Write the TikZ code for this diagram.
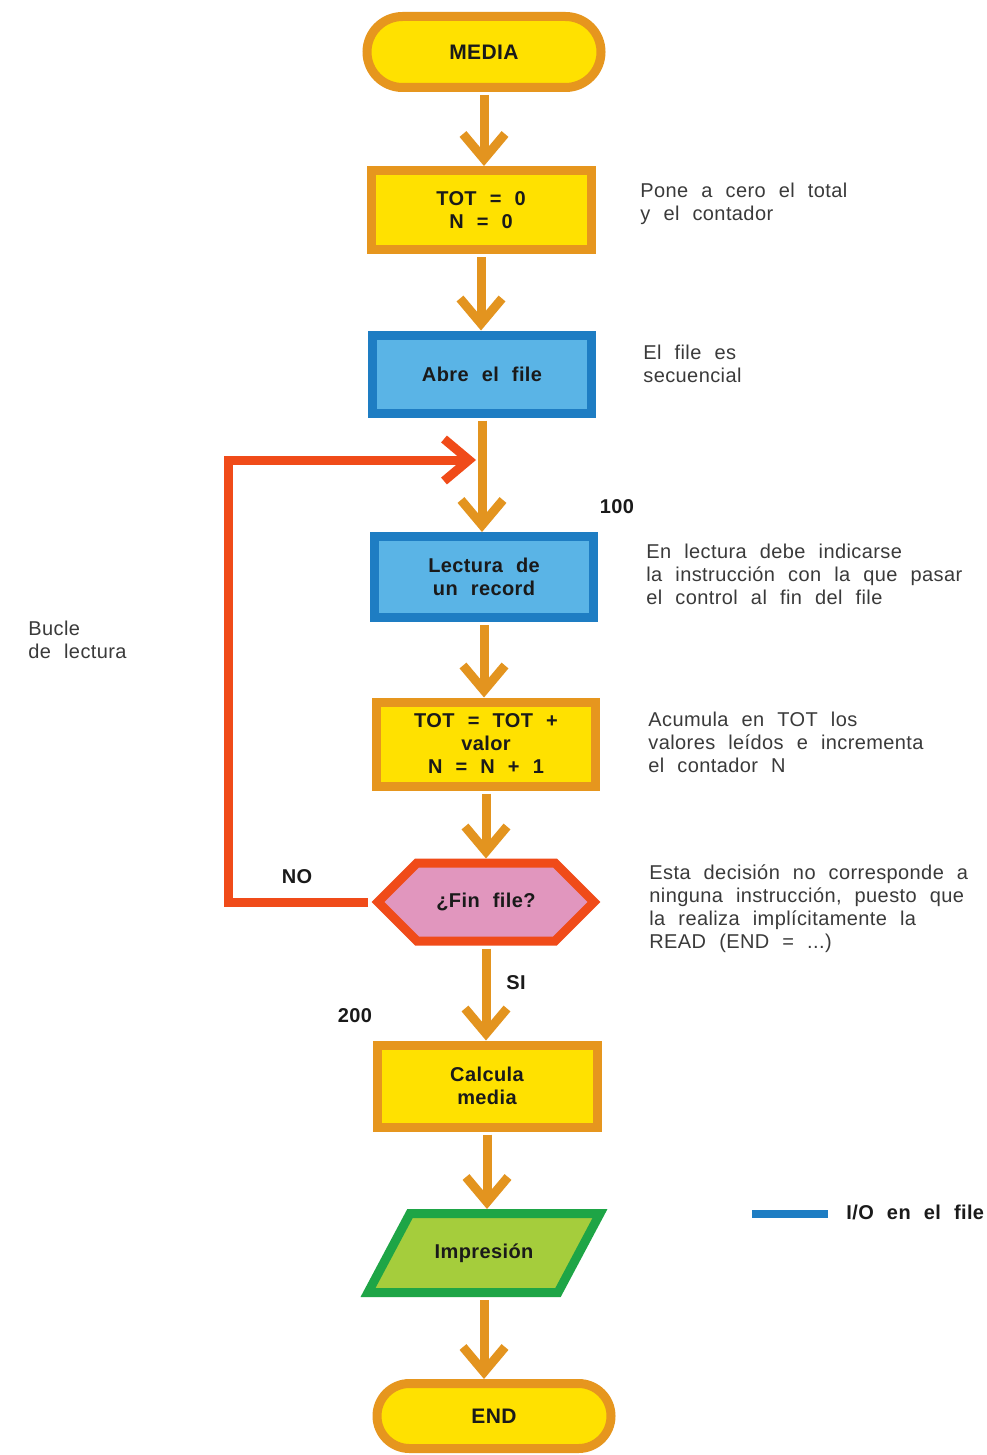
\documentclass[tikz,border=0pt]{standalone}
\usepackage{fontspec}
\setmainfont{Liberation Sans}[WordSpace=2.2,LetterSpace=2]
\usetikzlibrary{arrows.meta,calc}

\definecolor{boxyellow}{HTML}{FFE100}
\definecolor{boxorange}{HTML}{E6961E}
\definecolor{flowor}{HTML}{E3941F}
\definecolor{iofill}{HTML}{5AB4E6}
\definecolor{ioblue}{HTML}{1E7DC3}
\definecolor{looped}{HTML}{F04B19}
\definecolor{decfill}{HTML}{E196BE}
\definecolor{outgreen}{HTML}{1EA546}
\definecolor{outfill}{HTML}{A5CD3C}
\definecolor{ink}{HTML}{1A1A1A}
\definecolor{notegray}{HTML}{3A3A3A}

\begin{document}
\begin{tikzpicture}[x=0.5pt,y=-0.5pt,
  boxfont/.style={font=\bfseries\fontsize{10}{11.5}\selectfont},
  box/.style={boxfont, draw=boxorange, fill=boxyellow, line width=4.5pt,
    align=center, text=ink, inner sep=0pt},
  iobox/.style={box, draw=ioblue, fill=iofill},
  term/.style={box, font=\bfseries\fontsize{10.5}{12}\selectfont},
  frame/.style={inner sep=0pt, outer sep=0pt},
  flow/.style={draw=flowor, line width=4.5pt, shorten <=1.5pt,
    -{Straight Barb[length=12.5pt,width=21pt]}},
  loopflow/.style={draw=looped, line width=4.5pt, shorten <=2pt,
    -{Straight Barb[length=12.5pt,width=21pt]}},
  note/.style={anchor=north west, align=left, inner sep=0pt,
    font=\fontsize{10}{11.5}\selectfont, text=notegray},
  tag/.style={boxfont, text=ink, inner sep=0pt}]

\useasboundingbox (0,0) rectangle (986,1455);
\fill[white] (0,0) rectangle (986,1455);

% main column of steps
\node[term, minimum width=117pt, minimum height=35.5pt, rounded corners=17.75pt]
  (media) at (484,52) {MEDIA};
\node[box, minimum width=110pt, minimum height=39.5pt] (init) at (481,210)
  {TOT = 0\\N = 0};
\node[iobox, minimum width=109.5pt, minimum height=39pt] (open) at (482,374)
  {Abre el file};
\node[iobox, minimum width=109.5pt, minimum height=40.5pt] (read) at (484,577)
  {Lectura de\\un record};
\node[box, minimum width=109.5pt, minimum height=42pt] (accum) at (486,744)
  {TOT = TOT +\\valor\\N = N + 1};

% decision: hexagon drawn inside its frame
\node[frame, minimum width=114pt, minimum height=43.5pt] (hex) at (486,902) {};
\draw[draw=looped, fill=decfill, line width=4.5pt]
  ($(hex.west)+(6,0)$) -- ($(hex.north west)+(45,4.5)$)
  -- ($(hex.north east)+(-45,4.5)$) -- ($(hex.east)+(-6,0)$)
  -- ($(hex.south east)+(-45,-4.5)$) -- ($(hex.south west)+(45,-4.5)$) -- cycle;
\node[tag] (hextext) at (hex) {¿Fin file?};

\node[box, minimum width=110pt, minimum height=41pt] (calc) at (487,1086)
  {Calcula\\media};

% output: parallelogram drawn inside its frame
\node[frame, minimum width=122pt, minimum height=44pt] (print) at (484,1253) {};
\draw[draw=outgreen, fill=outfill, line width=4.5pt]
  ($(print.north west)+(48,4.5)$) -- ($(print.north east)+(-6,4.5)$)
  -- ($(print.south east)+(-48,-4.5)$) -- ($(print.south west)+(6,-4.5)$) -- cycle;
\node[tag] (printtext) at (print) {Impresión};

\node[term, minimum width=117pt, minimum height=32.5pt, rounded corners=16.25pt]
  (end) at (494,1416) {END};

% reading loop back to the record read
\coordinate (loopcorner) at (228,902);
\coordinate (loopjoin) at (476,460);
\draw[loopflow] (hex.west) -- (loopcorner) |- (loopjoin);

% flow connectors
\draw[flow] (media.south) -- (media.south |- init.north);
\draw[flow] (init.south) -- (init.south |- open.north);
\draw[flow] (open.south) -- (open.south |- read.north);
\draw[flow] (read.south) -- (read.south |- accum.north);
\draw[flow] (accum.south) -- (accum.south |- hex.north);
\draw[flow] (hex.south) -- (hex.south |- calc.north);
\draw[flow] (calc.south) -- (calc.south |- print.north);
\draw[flow] (print.south) -- (print.south |- end.north);

% labels on the flow
\node[tag] (lbl100) at (617,507) {100};
\node[tag] (lblno) at (297,877) {NO};
\node[tag] (lblsi) at (516,983) {SI};
\node[tag] (lbl200) at (355,1016) {200};

% comments
\node[note] (n1) at (640,183) {Pone a cero el total\\y el contador};
\node[note] (n2) at (643,345) {El file es\\secuencial};
\node[note] (n3) at (646,544) {En lectura debe indicarse\\la instrucción con la que pasar\\el control al fin del file};
\node[note] (n4) at (648,712) {Acumula en TOT los\\valores leídos e incrementa\\el contador N};
\node[note] (n5) at (649,864) {Esta decisión no corresponde a\\ninguna instrucción, puesto que\\la realiza implícitamente la\\READ (END = ...)};
\node[note] (n6) at (28,621) {Bucle\\de lectura};

% legend
\coordinate (legA) at (752,1214);
\coordinate (legB) at (828,1214);
\draw[ioblue, line width=4pt] (legA) -- (legB);
\node[tag, anchor=west] (legtext) at (846,1212) {I/O en el file};
\end{tikzpicture}
\end{document}
